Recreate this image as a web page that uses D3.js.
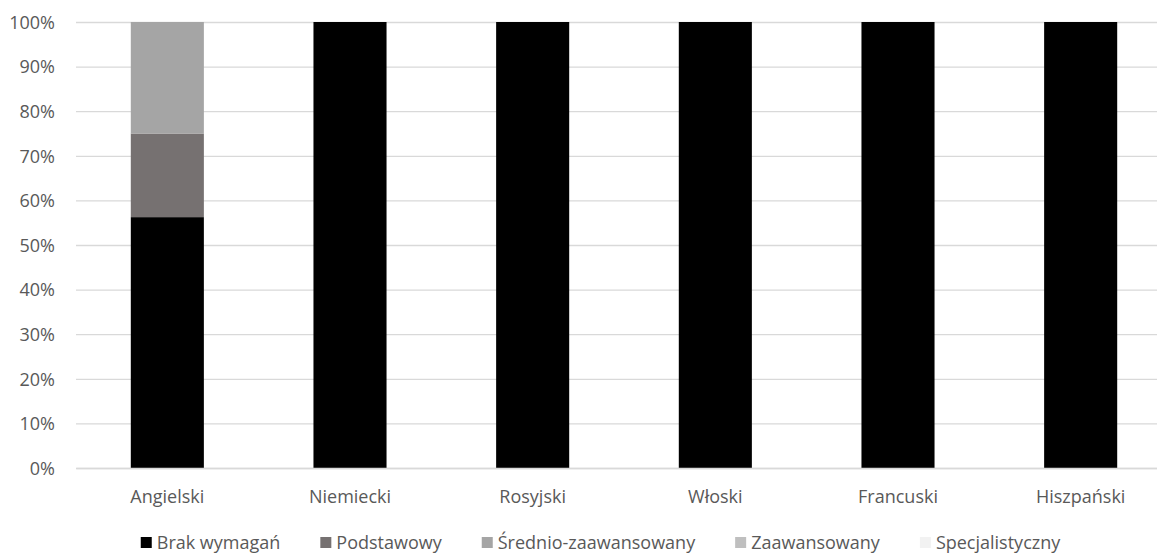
<!DOCTYPE html>
<html>
<head>
<meta charset="utf-8">
<script src="https://cdn.jsdelivr.net/npm/d3@7"></script>
<style>
  html, body { margin: 0; padding: 0; background: #fff; }
  svg { display: block; }
  text { font-family: "Open Sans", sans-serif; fill: #595959; }
</style>
</head>
<body>
<script>
const categories = ["Angielski", "Niemiecki", "Rosyjski", "Włoski", "Francuski", "Hiszpański"];
const seriesNames = ["Brak wymagań", "Podstawowy", "Średnio-zaawansowany", "Zaawansowany", "Specjalistyczny"];
const brakWymagan = [56.25, 100, 100, 100, 100, 100];
const podstawowy = [18.75, 0, 0, 0, 0, 0];
const srednioZaawansowany = [25, 0, 0, 0, 0, 0];
const zaawansowany = [0, 0, 0, 0, 0, 0];
const specjalistyczny = [0, 0, 0, 0, 0, 0];
const seriesColors = ["#000000", "#767171", "#a5a5a5", "#bfbfbf", "#f2f2f2"];
const yTicks = [0, 10, 20, 30, 40, 50, 60, 70, 80, 90, 100];

const W = 1157, H = 555;
const plotLeft = 76, plotRight = 1172, plotTop = 22, plotBottom = 468;
const fontSize = "18px";

const seriesValues = [brakWymagan, podstawowy, srednioZaawansowany, zaawansowany, specjalistyczny];
const rows = categories.map((c, i) => {
  const r = { cat: c };
  seriesNames.forEach((s, j) => r[s] = seriesValues[j][i]);
  return r;
});
const stacked = d3.stack().keys(seriesNames)(rows);

const svg = d3.select("body").append("svg").attr("width", W).attr("height", H);

const x = d3.scaleBand().domain(categories).range([plotLeft, plotRight]).paddingInner(0.6).paddingOuter(0.3);
const y = d3.scaleLinear().domain([0, 100]).range([plotBottom, plotTop]);
const color = d3.scaleOrdinal().domain(seriesNames).range(seriesColors);

// gridlines
const yAxis = d3.axisLeft(y).tickValues(yTicks).tickFormat(d => d + "%").tickSize(-(plotRight - plotLeft)).tickPadding(21);
const gy = svg.append("g").attr("transform", `translate(${plotLeft},0)`).call(yAxis);
gy.select(".domain").remove();
gy.selectAll(".tick line").attr("stroke", "#d9d9d9").attr("stroke-width", 1.3);
gy.selectAll(".tick text").style("font-size", fontSize).attr("fill", "#595959").attr("dy", "0.35em");

// bars
svg.append("g").selectAll("g").data(stacked).join("g")
  .attr("fill", d => color(d.key))
  .selectAll("rect").data(d => d).join("rect")
  .attr("x", d => x(d.data.cat))
  .attr("width", x.bandwidth())
  .attr("y", d => y(d[1]))
  .attr("height", d => Math.max(0, y(d[0]) - y(d[1])));

// x axis
const xAxis = d3.axisBottom(x).tickSize(0).tickPadding(22);
const gx = svg.append("g").attr("transform", `translate(0,${plotBottom})`).call(xAxis);
gx.select(".domain").attr("stroke", "#d9d9d9").attr("stroke-width", 1.3);
gx.selectAll(".tick text").style("font-size", fontSize).attr("fill", "#595959");

// legend
const legend = svg.append("g");
const items = legend.selectAll("g").data(seriesNames).join("g");
items.append("rect").attr("width", 11).attr("height", 11).attr("y", -12).attr("fill", d => color(d));
items.append("text").attr("x", 16).attr("y", 0).style("font-size", fontSize).text(d => d);
const gap = 40;
const widths = [];
items.each(function () {
  const w = 16 + d3.select(this).select("text").node().getComputedTextLength();
  widths.push(w);
});
const total = d3.sum(widths) + gap * (widths.length - 1);
let start = 600.5 - total / 2;
items.attr("transform", (d, i) => {
  const t = `translate(${start},549)`;
  start += widths[i] + gap;
  return t;
});
</script>
</body>
</html>
